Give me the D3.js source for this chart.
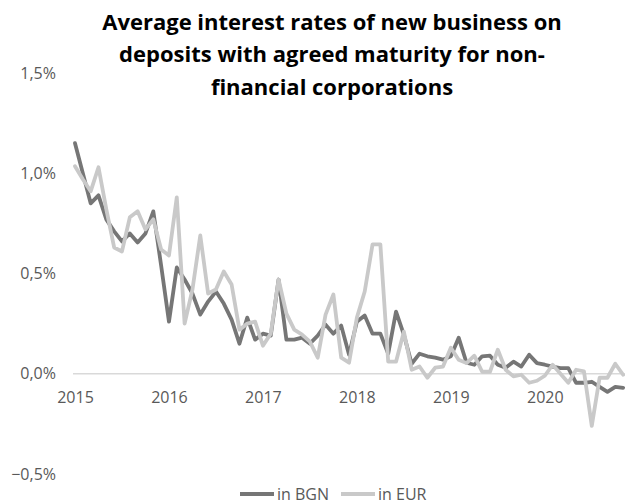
<!DOCTYPE html>
<html>
<head>
<meta charset="utf-8">
<script src="https://cdn.jsdelivr.net/npm/d3@7"></script>
<style>
  html, body { margin: 0; padding: 0; background: #ffffff; }
  svg { display: block; }
</style>
</head>
<body>
<svg id="chart" width="625" height="504"></svg>
<script>
// Monthly average interest rates (%), January 2015 onwards
const titleLines = [
  "Average interest rates of new business on",
  "deposits with agreed maturity for non-",
  "financial corporations"
];
const seriesNames = ["in BGN", "in EUR"];
const yearLabels = ["2015", "2016", "2017", "2018", "2019", "2020"];
const yTicks = [-0.5, 0, 0.5, 1.0, 1.5];

const bgn = [
  1.15, 1.00, 0.85, 0.89, 0.77, 0.71, 0.66, 0.70, 0.655, 0.70, 0.81, 0.54,
  0.26, 0.53, 0.47, 0.40, 0.295, 0.36, 0.41, 0.35, 0.27, 0.15, 0.28, 0.17,
  0.20, 0.19, 0.47, 0.17, 0.17, 0.18, 0.15, 0.19, 0.245, 0.20, 0.24, 0.095,
  0.26, 0.29, 0.20, 0.20, 0.10, 0.31, 0.195, 0.05, 0.10, 0.087, 0.08, 0.07,
  0.087, 0.18, 0.055, 0.045, 0.087, 0.09, 0.045, 0.03, 0.06, 0.036, 0.095, 0.053,
  0.045, 0.036, 0.028, 0.028, -0.045, -0.045, -0.04, -0.065, -0.09, -0.065, -0.07
];
const eur = [
  1.035, 0.97, 0.91, 1.03, 0.82, 0.63, 0.61, 0.78, 0.81, 0.72, 0.77, 0.62,
  0.59, 0.88, 0.25, 0.42, 0.69, 0.40, 0.42, 0.51, 0.445, 0.22, 0.25, 0.26,
  0.14, 0.20, 0.47, 0.30, 0.22, 0.195, 0.16, 0.08, 0.295, 0.395, 0.08, 0.055,
  0.28, 0.41, 0.645, 0.645, 0.06, 0.06, 0.21, 0.02, 0.036, -0.02, 0.03, 0.036,
  0.13, 0.07, 0.053, 0.09, 0.01, 0.01, 0.12, 0.02, -0.013, -0.005, -0.045, -0.035,
  -0.01, 0.045, 0.0, -0.045, 0.02, 0.012, -0.26, -0.02, -0.02, 0.05, -0.005
];

const colors = ["#767676", "#c9c9c9"];
const titleFont = "'Open Sans', Lato, sans-serif";
const font = "'Open Sans', Lato, sans-serif";

const svg = d3.select("#chart");

const x = d3.scaleLinear().domain([0, 70]).range([75, 623.1]);
const y = d3.scaleLinear().domain([-0.5, 1.5]).range([474, 73]);

// Title
svg.append("g")
  .selectAll("text")
  .data(titleLines)
  .join("text")
  .attr("x", 332)
  .attr("y", (d, i) => 29.5 + i * 32.5)
  .attr("text-anchor", "middle")
  .attr("font-family", titleFont)
  .attr("font-weight", "bold")
  .attr("font-size", 22)
  .attr("fill", "#000")
  .text(d => d);

// Y axis labels (no axis line, no ticks)
const yAxis = d3.axisLeft(y)
  .tickValues(yTicks)
  .tickSize(0)
  .tickPadding(0)
  .tickFormat(d => d3.format(".1f")(d).replace(".", ",") + "%");
const gy = svg.append("g").attr("transform", "translate(56,0)").call(yAxis);
gy.select(".domain").remove();
gy.selectAll("text")
  .attr("font-family", font)
  .attr("font-size", 16)
  .attr("fill", "#595959");

// Zero line
svg.append("line")
  .attr("x1", 73).attr("x2", 625)
  .attr("y1", y(0)).attr("y2", y(0))
  .attr("stroke", "#d9d9d9")
  .attr("stroke-width", 1.3);

// Year labels along the zero line
const xAxis = d3.axisBottom(x)
  .tickValues(yearLabels.map((d, i) => i * 12))
  .tickSize(0)
  .tickPadding(0)
  .tickFormat((d, i) => yearLabels[i]);
const gx = svg.append("g").attr("transform", `translate(0,${y(0) + 18})`).call(xAxis);
gx.select(".domain").remove();
gx.selectAll("text")
  .attr("font-family", font)
  .attr("font-size", 16)
  .attr("fill", "#595959");

// Series lines
const line = d3.line()
  .x((d, i) => x(i))
  .y(d => y(d));

svg.append("defs").append("clipPath").attr("id", "plot-clip")
  .append("rect").attr("x", 0).attr("y", 0).attr("width", 625).attr("height", 504);

const plot = svg.append("g").attr("clip-path", "url(#plot-clip)");
[bgn, eur].forEach((s, k) => {
  plot.append("path")
    .datum(s)
    .attr("d", line)
    .attr("fill", "none")
    .attr("stroke", colors[k])
    .attr("stroke-width", 3.8)
    .attr("stroke-linejoin", "round")
    .attr("stroke-linecap", "round");
});

// Legend
const legend = svg.append("g").attr("transform", "translate(0,494)");
const legendX = [240, 341];
seriesNames.forEach((name, k) => {
  legend.append("line")
    .attr("x1", legendX[k]).attr("x2", legendX[k] + 34)
    .attr("y1", 0).attr("y2", 0)
    .attr("stroke", colors[k])
    .attr("stroke-width", 3.8);
  legend.append("text")
    .attr("x", legendX[k] + 37)
    .attr("y", 0)
    .attr("dy", "0.35em")
    .attr("font-family", font)
    .attr("font-size", 16)
    .attr("fill", "#595959")
    .text(name);
});
</script>
</body>
</html>
